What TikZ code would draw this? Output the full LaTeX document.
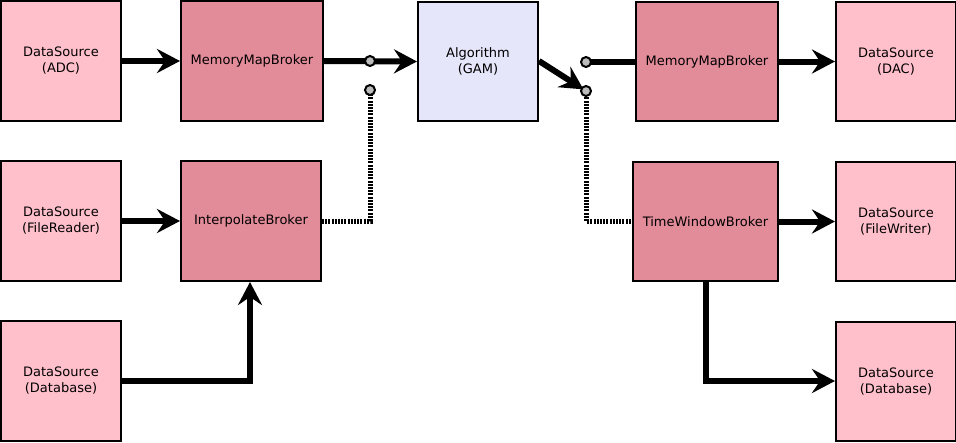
\documentclass[tikz,border=0pt]{standalone}
\usepackage{fontspec}
\setmainfont{DejaVu Sans}
\usetikzlibrary{arrows.meta}
\definecolor{dspink}{HTML}{FFC0CB}
\definecolor{broker}{HTML}{E28B99}
\definecolor{algcol}{HTML}{E6E6FA}
\definecolor{swgray}{HTML}{BBBBBB}
\tikzset{
  box/.style={draw=black, line width=2pt, minimum width=120pt, minimum height=120pt, inner sep=0pt, align=center, font=\fontsize{13}{16}\selectfont},
  ds/.style={box, fill=dspink},
  brk/.style={box, fill=broker},
  alg/.style={box, fill=algcol},
  flow/.style={line width=6pt, -{Stealth[length=23pt,width=24pt,inset=8pt]}},
  link/.style={line width=6pt},
  dotlink/.style={line width=5pt, dash pattern=on 2pt off 1.2pt},
  sw/.style={circle, draw=black, line width=2pt, fill=swgray, minimum size=10pt, inner sep=0pt},
}
\begin{document}
\begin{tikzpicture}[x=1pt,y=-1pt]
\useasboundingbox (0,0) rectangle (956,442);
% boxes
\node[ds] (dsadc) at (61,61) {DataSource\\(ADC)};
\node[brk, minimum width=142pt] (mmb1) at (252,61) {MemoryMapBroker};
\node[alg, minimum height=119pt] (alg) at (478,61.5) {Algorithm\\(GAM)};
\node[brk, minimum width=142pt, minimum height=119pt] (mmb2) at (707,61.5) {MemoryMapBroker};
\node[ds, minimum height=119pt] (dac) at (896,61.5) {DataSource\\(DAC)};
\node[ds] (dsfr) at (61,221) {DataSource\\(FileReader)};
\node[brk, minimum width=140pt] (ib) at (251,221) {InterpolateBroker};
\node[brk, minimum width=145pt, minimum height=119pt] (twb) at (705.5,221.5) {TimeWindowBroker};
\node[ds, minimum height=119pt] (fw) at (896,221.5) {DataSource\\(FileWriter)};
\node[ds] (dbl) at (61,381) {DataSource\\(Database)};
\node[ds, minimum height=119pt] (dbr) at (896,381.5) {DataSource\\(Database)};
% switch points
\coordinate (s1a) at (370,61);
\coordinate (s1b) at (370,90);
\coordinate (s2a) at (586,62);
\coordinate (s2b) at (586,91);
\coordinate (c1) at (370,221);
\coordinate (c2) at (586,221);
\coordinate (c3) at (250,381);
\coordinate (c4) at (706,381);
% connectors
\draw[flow] (dsadc.east) -- (mmb1.west);
\draw[flow] (mmb1.east) -- (alg.west);
\draw[flow] (dsfr.east) -- (ib.west);
\draw[flow] (mmb2.east) -- (dac.west);
\draw[flow] (twb.east |- fw.west) -- (fw.west);
\draw[flow] (dbl.east) -- (c3) -- (c3 |- ib.south);
\draw[flow] (c4 |- twb.south) -- (c4) -- (dbr.west |- c4);
\draw[flow, shorten >=3pt] (alg.east |- 0,61) -- (s2b);
\draw[link] (s2a) -- (mmb2.west |- s2a);
\draw[dotlink] (ib.east) -- (c1) -- (s1b);
\draw[dotlink] (s2b) -- (c2) -- (twb.west |- c2);
% switch circles
\node[sw] (k1) at (s1a) {};
\node[sw] (k2) at (s1b) {};
\node[sw] (k3) at (s2a) {};
\node[sw] (k4) at (s2b) {};
\end{tikzpicture}
\end{document}
